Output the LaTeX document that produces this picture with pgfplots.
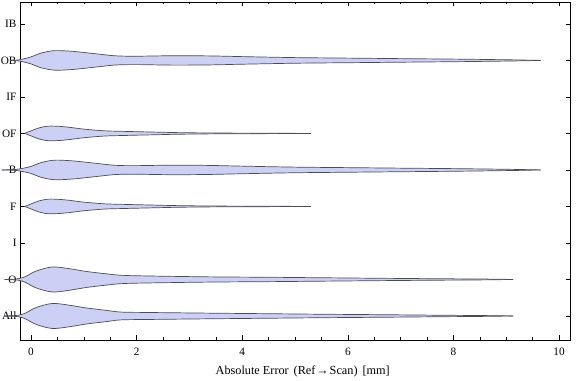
\documentclass[border=0pt]{standalone}
\usepackage{fontspec}
\setmainfont{Liberation Serif}
\usepackage{pgfplots}
\pgfplotsset{compat=1.18}
\usepgfplotslibrary{fillbetween}
\usepackage{pgfplotstable}

\definecolor{vfill}{RGB}{203,208,244}
\definecolor{vline}{RGB}{75,75,88}

% half-widths (in category units) of each violin along x
\pgfplotstableread{
x w
-0.40 0
-0.25 0.011
-0.12 0.049
0.00 0.096
0.20 0.205
0.45 0.268
0.80 0.247
1.20 0.186
1.60 0.126
2.00 0.115
2.70 0.129
3.40 0.123
4.00 0.104
5.00 0.077
6.00 0.063
7.00 0.049
8.00 0.036
8.80 0.022
9.30 0.011
9.65 0
}\tOB

\pgfplotstableread{
x w
-0.55 0
-0.30 0.011
-0.14 0.049
0.00 0.096
0.20 0.205
0.45 0.268
0.80 0.247
1.20 0.186
1.60 0.126
2.00 0.118
2.70 0.131
3.40 0.123
4.00 0.104
5.00 0.077
6.00 0.063
7.00 0.049
8.00 0.036
8.80 0.022
9.30 0.011
9.65 0
}\tB

\pgfplotstableread{
x w
-0.12 0
0.00 0.068
0.15 0.151
0.33 0.200
0.55 0.192
0.75 0.164
1.00 0.118
1.40 0.071
1.80 0.055
2.30 0.038
2.80 0.022
3.50 0.011
4.30 0.007
5.30 0
}\tOF

\pgfplotstableread{
x w
-0.12 0
0.00 0.068
0.15 0.151
0.33 0.200
0.55 0.192
0.75 0.164
1.00 0.118
1.40 0.071
1.80 0.055
2.30 0.038
2.80 0.022
3.50 0.011
4.30 0.007
5.30 0
}\tF

\pgfplotstableread{
x w
-0.50 0
-0.30 0.011
-0.20 0.033
-0.10 0.082
0.10 0.233
0.40 0.342
0.70 0.301
1.05 0.219
1.40 0.159
1.70 0.115
2.20 0.096
3.40 0.071
4.50 0.060
5.50 0.047
6.80 0.030
7.80 0.019
8.60 0.011
9.13 0
}\tO

\pgfplotstableread{
x w
-0.50 0
-0.30 0.011
-0.20 0.033
-0.10 0.082
0.10 0.233
0.40 0.342
0.70 0.301
1.05 0.219
1.40 0.159
1.70 0.107
2.20 0.096
3.40 0.077
4.50 0.062
5.50 0.048
6.80 0.033
7.80 0.020
8.60 0.011
9.13 0
}\tAll

\newcommand{\violin}[3]{%
  \addplot[vline, line width=0.7bp, smooth, tension=0.5, name path=u#3]
    table[x=x, y expr=#2+\thisrow{w}] {#1};
  \addplot[vline, line width=0.7bp, smooth, tension=0.5, name path=l#3]
    table[x=x, y expr=#2-\thisrow{w}] {#1};
  \addplot[vfill] fill between[of=u#3 and l#3];
}

\begin{document}
\begin{tikzpicture}
\begin{axis}[
  scale only axis,
  width=550bp, height=338bp,
  xmin=-0.195, xmax=10.22,
  ymin=0.342, ymax=9.60,
  clip=false,
  axis line style={black, line width=0.6bp},
  xtick={0,2,4,6,8,10},
  minor x tick num=3,
  ytick={1,2,3,4,5,6,7,8,9},
  yticklabels={All,O,I,F,B,OF,IF,OB,IB},
  xtick pos=both, ytick pos=both,
  xticklabel pos=bottom, yticklabel pos=left,
  tick align=inside,
  major tick length=4.5bp,
  minor tick length=2.5bp,
  tick style={black, line width=0.5bp},
  /pgf/number format/assume math mode=true,
  ticklabel style={font=\fontsize{11.3}{13}\selectfont},
  xticklabel style={anchor=base, yshift=-15bp},
  yticklabel style={anchor=east, inner sep=0pt, xshift=-4bp},
  xlabel={Absolute Error\hspace{0.4em}(Ref\hspace{0.08em}→\hspace{0.08em}Scan)\hspace{0.4em}[mm]},
  xlabel style={font=\fontsize{12.3}{14}\selectfont, at={(rel axis cs:0.5,0)}, anchor=base, xshift=7bp, yshift=-34bp},
]
\coordinate (bl) at (rel axis cs:0,0);
\coordinate (tr) at (rel axis cs:1,1);
\violin{\tAll}{1}{a}
\violin{\tO}{2}{b}
\violin{\tF}{4}{c}
\violin{\tB}{5}{d}
\violin{\tOF}{6}{e}
\violin{\tOB}{8}{f}
\end{axis}
\pgfresetboundingbox
\path[use as bounding box] ([xshift=-20.7bp,yshift=-41bp]bl) rectangle ([xshift=5.3bp,yshift=2bp]tr);
\end{tikzpicture}
\end{document}
